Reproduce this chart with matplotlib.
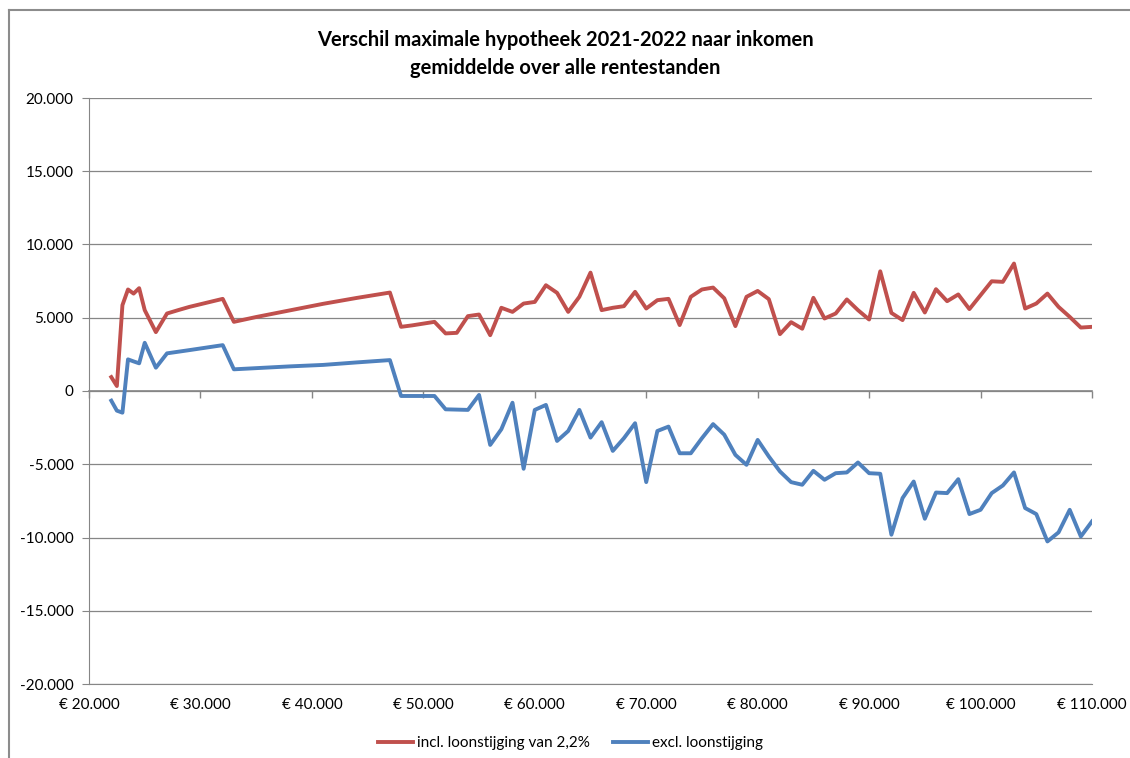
import matplotlib
matplotlib.use("Agg")
import matplotlib.pyplot as plt
from matplotlib.ticker import FuncFormatter, MultipleLocator, NullFormatter
from matplotlib.lines import Line2D

# Income (bruto jaarinkomen) and difference in max mortgage 2021 -> 2022
inkomen = [22000, 22500, 23000, 23500, 24000, 24500, 25000, 26000, 27000, 28000,
           29000, 32000, 33000, 35000, 38000, 41000, 44000, 47000,
           48000, 49000, 50000, 51000, 52000, 53000, 54000, 55000, 56000, 57000,
           58000, 59000, 60000, 61000, 62000, 63000, 64000, 65000, 66000, 67000,
           68000, 69000, 70000, 71000, 72000, 73000, 74000, 75000, 76000, 77000,
           78000, 79000, 80000, 81000, 82000, 83000, 84000, 85000, 86000, 87000,
           88000, 89000, 90000, 91000, 92000, 93000, 94000, 95000, 96000, 97000,
           98000, 99000, 100000, 101000, 102000, 103000, 104000, 105000, 106000,
           107000, 108000, 109000, 110000]

incl_loonstijging = [950, 340, 5860, 6930, 6650, 7020, 5520, 4020, 5290, 5520,
                     5740, 6290, 4720, 5050, 5500, 5950, 6350, 6720,
                     4380, 4480, 4600, 4720, 3930, 3970, 5110, 5220, 3810, 5680,
                     5400, 5970, 6080, 7220, 6700, 5400, 6430, 8080, 5520, 5680,
                     5790, 6770, 5630, 6200, 6290, 4500, 6430, 6930, 7060, 6330,
                     4430, 6430, 6830, 6270, 3880, 4700, 4250, 6360, 4950, 5290,
                     6250, 5520, 4880, 8170, 5330, 4840, 6700, 5360, 6950, 6130,
                     6590, 5590, 6540, 7490, 7450, 8700, 5630, 5970, 6650,
                     5740, 5060, 4330, 4380]

excl_loonstijging = [-660, -1340, -1480, 2160, 2020, 1890, 3290, 1590, 2570, 2680,
                     2790, 3130, 1480, 1560, 1680, 1780, 1950, 2110,
                     -340, -340, -340, -340, -1250, -1270, -1290, -270, -3680, -2610,
                     -800, -5310, -1290, -950, -3410, -2730, -1290, -3180, -2130, -4090,
                     -3220, -2200, -6220, -2730, -2430, -4250, -4250, -3220, -2260, -2980,
                     -4360, -5040, -3340, -4470, -5490, -6220, -6400, -5450, -6060, -5610,
                     -5560, -4880, -5610, -5650, -9810, -7310, -6180, -8720, -6930, -6970,
                     -6020, -8400, -8110, -6970, -6450, -5560, -7990, -8400, -10270,
                     -9650, -8110, -9930, -8900]

RED = "#C0504D"
BLUE = "#4F81BD"
GRID = "#868686"

plt.rcParams['font.family'] = ['Lato', 'DejaVu Sans']

fig = plt.figure(figsize=(11.3, 7.58), dpi=100)
ax = fig.add_axes([89 / 1130, 1 - 684 / 758, (1092 - 89) / 1130, (684 - 98) / 758])

# chart area border (top and left visible)
fig.add_artist(Line2D([9 / 1130, 9 / 1130], [0, 1 - 10 / 758], transform=fig.transFigure,
                      color="#8c8c8c", lw=1.5))
fig.add_artist(Line2D([9 / 1130, 1], [1 - 10 / 758, 1 - 10 / 758], transform=fig.transFigure,
                      color="#8c8c8c", lw=1.5))

ax.plot(inkomen, incl_loonstijging, color=RED, lw=2.8, label="incl. loonstijging van 2,2%",
        solid_joinstyle="round")
ax.plot(inkomen, excl_loonstijging, color=BLUE, lw=2.8, label="excl. loonstijging",
        solid_joinstyle="round")

ax.set_xlim(20000, 110000)
ax.set_ylim(-20000, 20000)
ax.yaxis.set_major_locator(MultipleLocator(5000))
ax.xaxis.set_major_locator(MultipleLocator(10000))

fmt_num = lambda v: f"{int(round(v)):,}".replace(",", ".")
ax.yaxis.set_major_formatter(FuncFormatter(lambda v, p: fmt_num(v)))
ax.xaxis.set_major_formatter(FuncFormatter(lambda v, p: "€ " + fmt_num(v)))

ax.grid(axis='y', color=GRID, lw=0.9)
ax.set_axisbelow(True)
for s in ['top', 'right']:
    ax.spines[s].set_visible(False)
ax.spines['left'].set_color(GRID)
ax.spines['bottom'].set_color(GRID)
ax.tick_params(axis='y', length=5, color=GRID, labelsize=11, pad=6, labelcolor="black")
ax.tick_params(axis='x', length=0, labelsize=11, pad=10, labelcolor="black")

# horizontal axis crossing at 0 with its tick marks pointing down
sec = ax.secondary_xaxis(0.5)
sec.xaxis.set_major_locator(MultipleLocator(10000))
sec.xaxis.set_major_formatter(NullFormatter())
sec.xaxis.set_ticks_position('bottom')
sec.tick_params(axis='x', direction='out', length=5, color=GRID, width=1.0)
for s in sec.spines.values():
    s.set_color(GRID)
    s.set_linewidth(1.2)

fig.text(0.5, 1 - 40 / 758, "Verschil maximale hypotheek 2021-2022 naar inkomen",
         ha='center', va='center', fontsize=14.5, fontweight='bold')
fig.text(0.5, 1 - 68 / 758, "gemiddelde over alle rentestanden",
         ha='center', va='center', fontsize=14.5, fontweight='bold')

fig.legend(loc='center', bbox_to_anchor=(0.505, 1 - 743 / 758), ncol=2, frameon=False,
           fontsize=11, handlelength=2.3, columnspacing=1.5, handletextpad=0.25)

fig.savefig("out.png", dpi=100)
